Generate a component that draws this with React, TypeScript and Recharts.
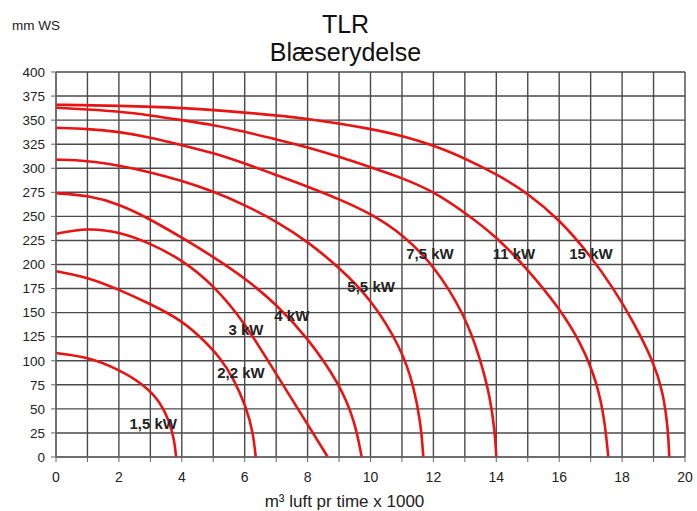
import { ComposedChart, Line, Scatter, XAxis, YAxis, CartesianGrid } from 'recharts';

// Blower curves: pressure (mm WS) vs airflow (m3/h x 1000), one array per motor size
const kw15 = [
  { x: 0, y: 366 }, { x: 2, y: 365 }, { x: 4, y: 363 }, { x: 6, y: 358 }, { x: 8, y: 352 },
  { x: 10, y: 341 }, { x: 11, y: 334 }, { x: 12.44, y: 319 }, { x: 13.5, y: 302 }, { x: 14.1, y: 292 },
  { x: 15, y: 274 }, { x: 16, y: 247 }, { x: 17, y: 209 }, { x: 17.77, y: 173 }, { x: 18.35, y: 141 },
  { x: 19, y: 99 }, { x: 19.3, y: 68 }, { x: 19.46, y: 30 }, { x: 19.5, y: 0 },
];
const kw11 = [
  { x: 0, y: 363 }, { x: 1, y: 361 }, { x: 2, y: 359 }, { x: 3, y: 355 }, { x: 4, y: 350 },
  { x: 5, y: 345 }, { x: 6, y: 338 }, { x: 7, y: 330 }, { x: 8, y: 322 }, { x: 9, y: 312 },
  { x: 10, y: 301 }, { x: 11, y: 290 }, { x: 12, y: 276 }, { x: 13, y: 254 }, { x: 14, y: 229 },
  { x: 15, y: 195 }, { x: 16, y: 155 }, { x: 16.7, y: 118 }, { x: 17.2, y: 78 }, { x: 17.45, y: 38 },
  { x: 17.56, y: 0 },
];
const kw75 = [
  { x: 0, y: 342 }, { x: 1, y: 341 }, { x: 2, y: 338 }, { x: 3, y: 332 }, { x: 4, y: 324 },
  { x: 5, y: 316 }, { x: 6, y: 305 }, { x: 7, y: 293 }, { x: 8, y: 281 }, { x: 9, y: 268 },
  { x: 10, y: 253 }, { x: 11, y: 232 }, { x: 12, y: 200 }, { x: 13, y: 148 }, { x: 13.5, y: 101 },
  { x: 13.8, y: 63 }, { x: 13.96, y: 25 }, { x: 14, y: 0 },
];
const kw55 = [
  { x: 0, y: 309 }, { x: 1, y: 308 }, { x: 2, y: 303 }, { x: 3, y: 296 }, { x: 4, y: 287 },
  { x: 5, y: 276 }, { x: 6, y: 262 }, { x: 7, y: 245 }, { x: 8, y: 224 }, { x: 9, y: 197 },
  { x: 10, y: 165 }, { x: 11, y: 112 }, { x: 11.38, y: 73 }, { x: 11.6, y: 35 }, { x: 11.68, y: 0 },
];
const kw4 = [
  { x: 0, y: 274 }, { x: 1, y: 272 }, { x: 2, y: 263 }, { x: 3, y: 247 }, { x: 4, y: 228 },
  { x: 5, y: 208 }, { x: 6, y: 186 }, { x: 7, y: 159 }, { x: 8, y: 124 }, { x: 9, y: 77 },
  { x: 9.5, y: 38 }, { x: 9.72, y: 0 },
];
const kw3 = [
  { x: 0, y: 232 }, { x: 1, y: 238 }, { x: 2, y: 234 }, { x: 3, y: 222 }, { x: 4, y: 205 },
  { x: 5, y: 179 }, { x: 6, y: 140 }, { x: 7, y: 86 }, { x: 8, y: 34 }, { x: 8.64, y: 0 },
];
const kw22 = [
  { x: 0, y: 193 }, { x: 1, y: 187 }, { x: 2, y: 174 }, { x: 3, y: 159 }, { x: 4, y: 142 },
  { x: 4.68, y: 122 }, { x: 5.2, y: 104 }, { x: 5.64, y: 82 }, { x: 6.05, y: 52 }, { x: 6.27, y: 25 },
  { x: 6.35, y: 0 },
];
const kw15small = [
  { x: 0, y: 108 }, { x: 1, y: 104 }, { x: 2, y: 91 }, { x: 2.8, y: 75 }, { x: 3.3, y: 58 },
  { x: 3.6, y: 38 }, { x: 3.76, y: 18 }, { x: 3.82, y: 0 },
];

const curveLabels = [
  { x: 3.09, y: 35, text: '1,5 kW' },
  { x: 5.88, y: 88, text: '2,2 kW' },
  { x: 6.04, y: 132, text: '3 kW' },
  { x: 7.5, y: 147, text: '4 kW' },
  { x: 10.02, y: 177, text: '5,5 kW' },
  { x: 11.89, y: 211, text: '7,5 kW' },
  { x: 14.56, y: 211, text: '11 kW' },
  { x: 17.01, y: 211, text: '15 kW' },
];

const xTicks = Array.from({ length: 21 }, (_, i) => i);
const yTicks = [0, 25, 50, 75, 100, 125, 150, 175, 200, 225, 250, 275, 300, 325, 350, 375, 400];

const curves = [kw15small, kw22, kw3, kw4, kw55, kw75, kw11, kw15];
const font = '"Liberation Sans", Arial, sans-serif';
const red = '#ea1313';

function CurveLabel(props: any) {
  const { cx, cy, payload } = props;
  return (
    <text x={cx} y={cy} textAnchor="middle" dominantBaseline="central"
      fontSize={15} fontWeight="bold" fill="#222" fontFamily={font}>
      {payload.text}
    </text>
  );
}

export default function App() {
  return (
    <div style={{ position: 'absolute', left: 0, top: 0, width: 697, height: 511, background: '#fff', fontFamily: font }}>
      <div style={{ position: 'absolute', left: 12, top: 19, fontSize: 13.5, lineHeight: 1, color: '#222' }}>mm WS</div>
      <div style={{ position: 'absolute', left: 0, width: 691, top: 12, fontSize: 25, lineHeight: 1, color: '#111', textAlign: 'center' }}>TLR</div>
      <div style={{ position: 'absolute', left: 0, width: 691, top: 40, fontSize: 25, lineHeight: 1, color: '#111', textAlign: 'center' }}>Blæserydelse</div>
      <div style={{ position: 'absolute', left: 0, width: 689, top: 493, fontSize: 17, lineHeight: 1, color: '#222', textAlign: 'center' }}>
        m³ luft pr time x 1000
      </div>
      <ComposedChart width={697} height={511} margin={{ top: 72, right: 12, bottom: 24, left: 0 }}
        style={{ position: 'absolute', left: 0, top: 0 }}>
        <CartesianGrid stroke="#4a4a4a" strokeWidth={1.4} />
        <XAxis type="number" dataKey="x" domain={[0, 20]} ticks={xTicks} interval={0} height={30}
          allowDataOverflow tickFormatter={(v) => (v % 2 === 0 ? String(v) : '')}
          tickSize={5} tickMargin={10} stroke="#666"
          tick={{ fontSize: 14, fill: '#222', fontFamily: font }} />
        <YAxis type="number" domain={[0, 400]} ticks={yTicks} interval={0} width={56}
          allowDataOverflow tickSize={5} tickMargin={6} stroke="#666"
          tick={{ fontSize: 13.5, fill: '#222', fontFamily: font }} />
        {curves.map((d, i) => (
          <Line key={i} data={d} dataKey="y" type="basis" stroke={red} strokeWidth={2.6}
            dot={false} isAnimationActive={false} />
        ))}
        <Scatter data={curveLabels} dataKey="y" shape={CurveLabel} isAnimationActive={false} />
      </ComposedChart>
    </div>
  );
}
